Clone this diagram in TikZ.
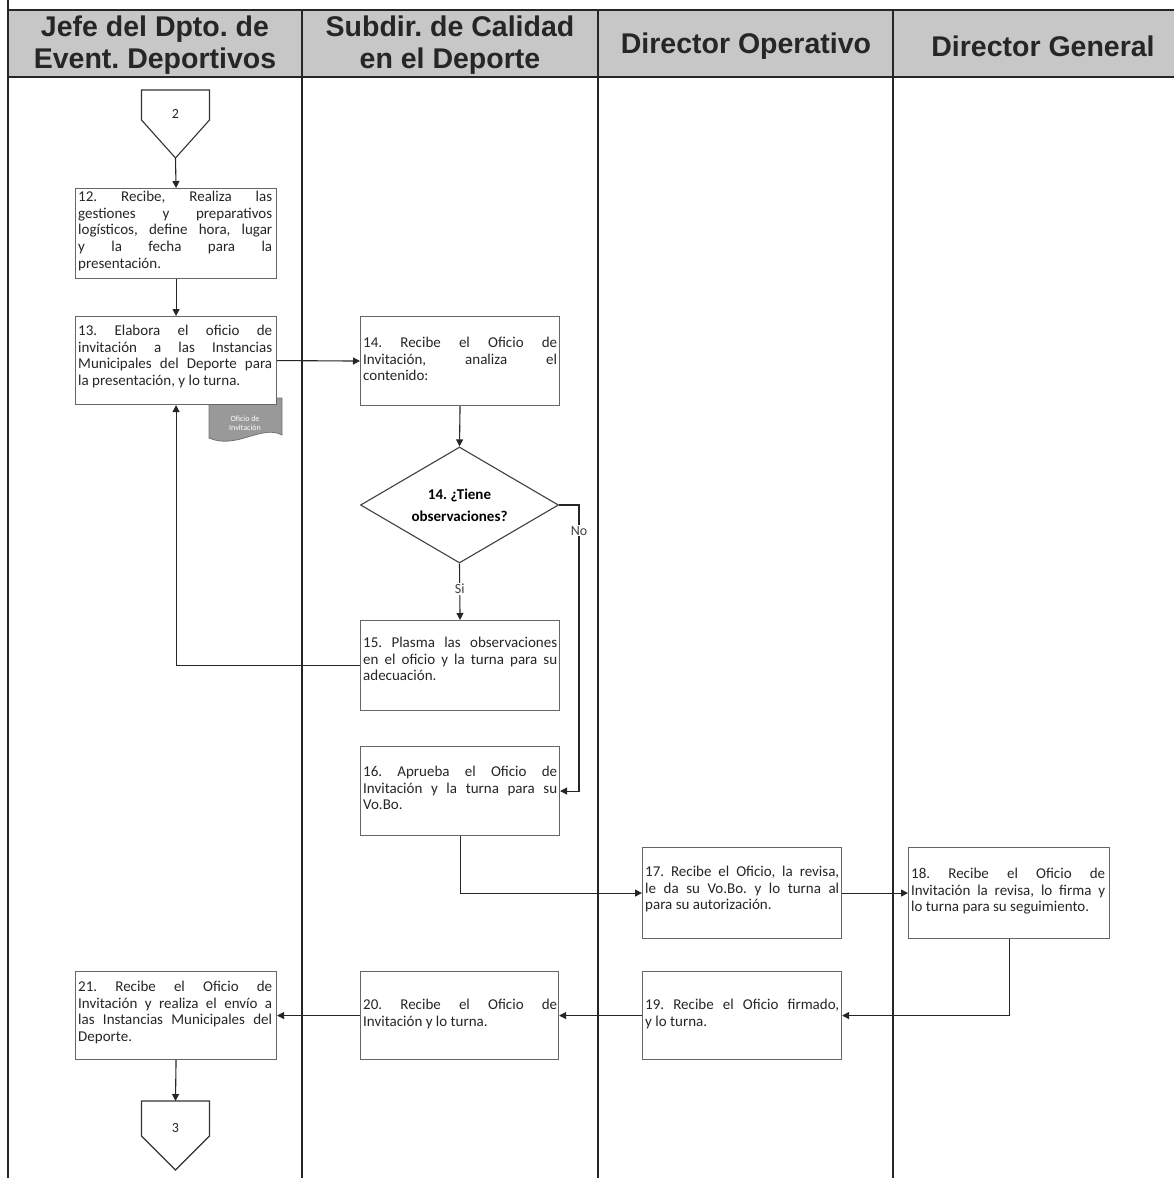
\documentclass[tikz,border=0pt]{standalone}
\usepackage{fontspec}
\setmainfont{Carlito}
\newfontfamily\headfont{Liberation Sans}
\usetikzlibrary{arrows.meta,calc,shapes.geometric}
% justified step texts: keep the given line breaks, never hyphenate
\tolerance=9999
\hbadness=10000
\hyphenpenalty=10000
\frenchspacing

\begin{document}
\begin{tikzpicture}[x=1pt,y=-1pt,
  lane/.style={line width=1.2pt, draw=black!85},
  head/.style={font=\headfont\bfseries\fontsize{28.5}{31.5}\selectfont, align=center, text=black!85, inner sep=0pt},
  stepbox/.style={draw=black!60, line width=1.1pt, fill=white, rectangle, inner sep=0pt, anchor=north west},
  steptext/.style={anchor=north west, text width=194pt, align=justify, inner sep=0pt,
    font=\fontsize{15}{16.6}\selectfont, text=black!85},
  flow/.style={line width=1.1pt, draw=black!85, -{Triangle[length=7pt,width=7pt]}},
  tag/.style={fill=white, inner sep=1pt, font=\fontsize{14}{16}\selectfont, text=black!75},
  offpage/.style={line width=1.1pt, draw=black!80, fill=white},
  pagenum/.style={font=\fontsize{14}{16}\selectfont, text=black!85},
]
\useasboundingbox (0,0) rectangle (1174,1178);

% ---- swimlane header and lane borders
\fill[black!22] (8,10) rectangle (1180,77);
\draw[lane] (8,10) -- (1180,10);
\draw[lane] (8,77) -- (1180,77);
\draw[lane] (8,0) -- (8,1178);
\foreach \lx in {302,598,893} \draw[lane] (\lx,10) -- (\lx,1178);

\node[head] (h1) at (155,45) {Jefe del Dpto. de\\Event. Deportivos};
\node[head] (h2) at (450,45) {Subdir. de Calidad\\en el Deporte};
\node[head] (h3) at (746,46) {Director Operativo};
\node[head] (h4) at (1043,46) {Director General};

% ---- off-page connector 2
\draw[offpage] (141.5,90) -- (209.5,90) -- (209.5,120) -- (175.5,158) -- (141.5,120) -- cycle;
\coordinate (c2tip) at (175.5,158);
\node[pagenum] (c2) at (175.5,114) {2};

% ---- step 12
\node[stepbox, minimum width=201pt, minimum height=90pt] (b12) at (75,188) {};
\node[steptext] (t12) at (78,191) {12. Recibe, Realiza las\linebreak gestiones y preparativos\linebreak log\'isticos, define hora, lugar\linebreak y la fecha para la\linebreak presentaci\'on.};

% ---- document: Oficio de Invitacion
\draw[black!55, line width=0.8pt, fill=black!40] (209,398) -- (282,398) -- (282,435)
  .. controls (262,424) and (236,450) .. (209,438) -- cycle;
\node[font=\fontsize{8}{9.5}\selectfont, text=white, align=center, inner sep=0pt] (doc) at (245,423) {Oficio de\\Invitaci\'on};

% ---- step 13
\node[stepbox, minimum width=201pt, minimum height=88pt] (b13) at (75,316) {};
\node[steptext] (t13) at (78,325) {13. Elabora el oficio de\linebreak invitaci\'on a las Instancias\linebreak Municipales del Deporte para\linebreak la presentaci\'on, y lo turna.};

% ---- step 14
\node[stepbox, minimum width=199pt, minimum height=89pt] (b14) at (360,316) {};
\node[steptext] (t14) at (363,337) {14. Recibe el Oficio de\linebreak Invitaci\'on, analiza el\linebreak contenido:};

% ---- decision
\node[diamond, shape aspect=1.7, draw=black!75, line width=1.1pt, fill=white, minimum width=198pt, minimum height=116pt, inner sep=0pt,
  align=center, font=\bfseries\fontsize{15}{22}\selectfont] (dia) at (459.5,505) {14. ¿Tiene\\observaciones?};

% ---- step 15
\node[stepbox, minimum width=199pt, minimum height=90pt] (b15) at (360,620) {};
\node[steptext] (t15) at (363,637) {15. Plasma las observaciones\linebreak en el oficio y la turna para su\linebreak adecuaci\'on.};

% ---- step 16
\node[stepbox, minimum width=199pt, minimum height=89pt] (b16) at (360,746) {};
\node[steptext] (t16) at (363,766) {16. Aprueba el Oficio de\linebreak Invitaci\'on y la turna para su\linebreak Vo.Bo.};

% ---- step 17
\node[stepbox, minimum width=199pt, minimum height=91pt] (b17) at (642,847) {};
\node[steptext] (t17) at (645,866) {17. Recibe el Oficio, la revisa,\linebreak le da su Vo.Bo. y lo turna al\linebreak para su autorizaci\'on.};

% ---- step 18
\node[stepbox, minimum width=201pt, minimum height=91pt] (b18) at (908,847) {};
\node[steptext] (t18) at (911,868) {18. Recibe el Oficio de\linebreak Invitaci\'on la revisa, lo firma y\linebreak lo turna para su seguimiento.};

% ---- step 19
\node[stepbox, minimum width=199pt, minimum height=88pt] (b19) at (642,971) {};
\node[steptext] (t19) at (645,999) {19. Recibe el Oficio firmado,\linebreak y lo turna.};

% ---- step 20
\node[stepbox, minimum width=198pt, minimum height=88pt] (b20) at (360,971) {};
\node[steptext] (t20) at (363,999) {20. Recibe el Oficio de\linebreak Invitaci\'on y lo turna.};

% ---- step 21
\node[stepbox, minimum width=201pt, minimum height=88pt] (b21) at (75,971) {};
\node[steptext] (t21) at (78,981) {21. Recibe el Oficio de\linebreak Invitaci\'on y realiza el env\'io a\linebreak las Instancias Municipales del\linebreak Deporte.};

% ---- off-page connector 3
\draw[offpage] (141.5,1101) -- (209.5,1101) -- (209.5,1136) -- (175.5,1170) -- (141.5,1136) -- cycle;
\coordinate (c3top) at (175.5,1101);
\node[pagenum] (c3) at (175.5,1128) {3};

% ---- connectors
\draw[flow] (c2tip) -- (b12.north);
\draw[flow] (b12.south) -- (b13.north);
\draw[flow] (b13.east) -- (b14.west);
\draw[flow] (b14.south) -- (dia.north);
\draw[flow] (dia.south) -- node[tag, pos=0.45] (si) {Si} (b15.north);
\coordinate (nocorner) at (579,505);
\draw[flow] (dia.east) -- (nocorner) -- node[tag, pos=0.09] (no) {No} (nocorner |- b16.east) -- (b16.east);
\draw[flow] (b15.west) -- (b15.west -| b13.south) -- (b13.south);
\draw[flow] (b16.south) -- (b16.south |- b17.west) -- (b17.west);
\draw[flow] (b17.east) -- (b18.west);
\draw[flow] (b18.south) -- (b18.south |- b19.east) -- (b19.east);
\draw[flow] (b19.west) -- (b20.east);
\draw[flow] (b20.west) -- (b21.east);
\draw[flow] (b21.south) -- (c3top);

\end{tikzpicture}
\end{document}
